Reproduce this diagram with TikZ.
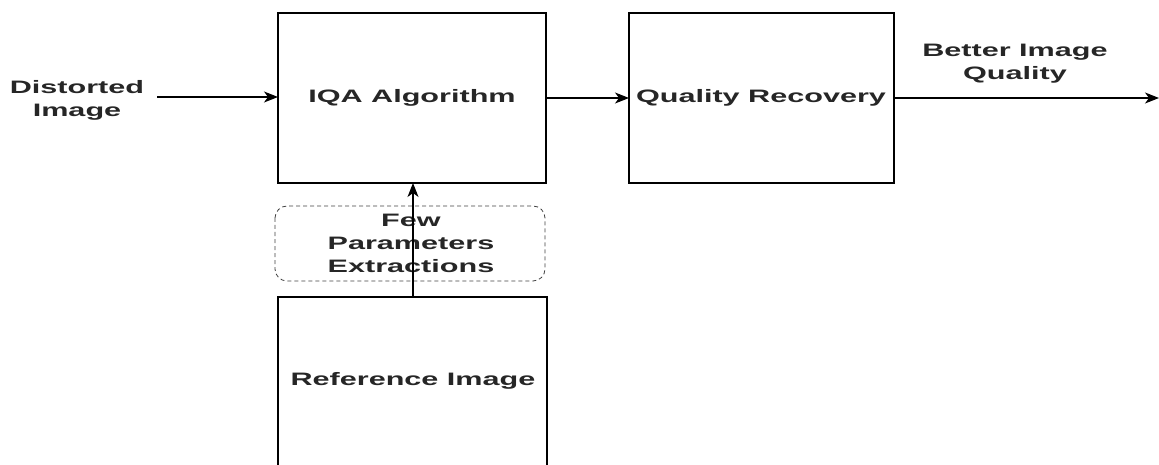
\documentclass[tikz,border=0pt]{standalone}
\usepackage{fontspec}
\setmainfont{Liberation Sans}
\newfontfamily\widefont[FakeStretch=1.7]{Liberation Sans}
\usetikzlibrary{arrows.meta}
\begin{document}
\begin{tikzpicture}[x=1pt,y=-1pt,
  box/.style={draw, line width=1.2pt, inner sep=0pt},
  lbl/.style={font=\widefont\bfseries\fontsize{18}{23}\selectfont, align=center, text=black!85},
  arr/.style={-{Stealth[length=14pt,width=11pt,inset=4pt]}, line width=1.1pt}]
\useasboundingbox (0,0) rectangle (1159,465);
\clip (0,0) rectangle (1159,465);
\draw[box] (278,13) rectangle (546,183);
\node[lbl] (iqa) at (412,98) {IQA Algorithm};
\coordinate (iqaW) at (278,97);
\coordinate (iqaE) at (546,98);
\coordinate (iqaS) at (413,183);
\draw[box] (629,13) rectangle (894,183);
\node[lbl] (qr) at (761,98) {Quality Recovery};
\coordinate (qrW) at (629,98);
\coordinate (qrE) at (894,98);
\draw[box] (278,297) rectangle (547,475);
\node[lbl] (ref) at (413,381) {Reference Image};
\coordinate (refN) at (413,297);
\draw[dashed, dash pattern=on 4pt off 3pt, line width=0.8pt, rounded corners=12pt, draw=black!75] (275,206) rectangle (545,281);
\node[lbl] (few) at (411,243) {Few\\Parameters\\Extractions};
\node[lbl] (dist) at (77,100) {Distorted\\Image};
\coordinate (distE) at (157,97);
\node[lbl] (better) at (1015,64) {Better Image\\Quality};
\coordinate (out) at (1159,98);
\draw[arr] (distE) -- (iqaW);
\draw[arr] (iqaE) -- (qrW);
\draw[arr] (qrE) -- (out);
\draw[arr] (refN) -- (iqaS);
\end{tikzpicture}
\end{document}
